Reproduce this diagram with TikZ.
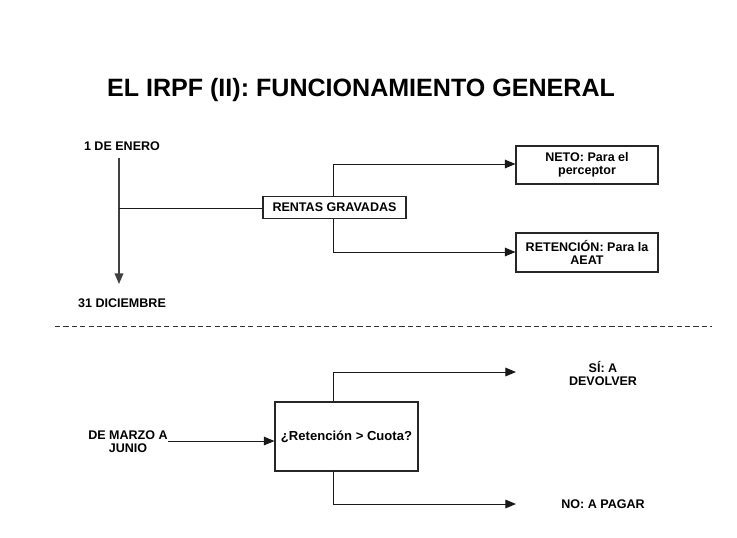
\documentclass[tikz,border=0pt]{standalone}
\usepackage{fontspec}
\setmainfont{Liberation Sans}
\usetikzlibrary{arrows.meta}
\begin{document}
\begin{tikzpicture}[x=0.75pt,y=-0.75pt,
  lbl/.style={font=\fontsize{9.4}{9.8}\selectfont\bfseries, align=center, inner sep=0pt},
  bx/.style={draw=black!85, line width=0.8pt, font=\fontsize{9.4}{9.8}\selectfont\bfseries, align=center, inner sep=0pt, minimum width=#1},
  conn/.style={draw=black!90, line width=0.75pt},
  arr/.style={conn, -{Triangle[length=8pt,width=6.5pt]}},
  ttl/.style={font=\fontsize{18.8}{22}\selectfont\bfseries, inner sep=0pt}
]
\useasboundingbox (0,0) rectangle (737,537);
% title
\node[ttl] (title) at (361,90) {EL IRPF (II): FUNCIONAMIENTO GENERAL};
% top part
\node[lbl] (ene) at (122,146) {1 DE ENERO};
\node[lbl] (dic) at (122,303) {31 DICIEMBRE};
\coordinate (tl0) at (119,158);
\coordinate (tl1) at (119,284);
\coordinate (jn) at (119,208);
\draw[arr, line width=1.1pt, draw=black!75] (tl0) -- (tl1);
\node[bx=143pt*0.75, minimum height=22*0.75pt] (rg) at (334.5,207.5) {RENTAS GRAVADAS};
\node[bx=142pt*0.75, minimum height=38*0.75pt] (neto) at (587,165) {NETO: Para el\\perceptor};
\node[bx=142pt*0.75, minimum height=39*0.75pt] (ret) at (587,252.5) {RETENCIÓN: Para la\\AEAT};
\draw[conn] (jn) -- (jn -| rg.west);
\draw[arr] (333,0 |- rg.north) -- (333,164) -- (neto.west |- 0,164);
\draw[arr] (333,0 |- rg.south) -- (333,252) -- (ret.west |- 0,252);
% separator
\coordinate (s0) at (55,326);
\coordinate (s1) at (712,326);
\draw[draw=black!80, line width=0.75pt, dash pattern=on 3.9pt off 2.4pt] (s0) -- (s1);
% bottom part
\node[lbl] (dm) at (128,442) {DE MARZO A\\JUNIO};
\node[bx=143pt*0.75, minimum height=69*0.75pt] (q) at (346.5,436.5) {\fontsize{9.8}{10}\selectfont ¿Retención > Cuota?};
\draw[arr] (168,441) -- (q.west |- 0,441);
\node[lbl] (si) at (603,373.5) {SÍ: A\\DEVOLVER};
\node[lbl] (no) at (603,504) {NO: A PAGAR};
\coordinate (siA) at (516,372);
\coordinate (noA) at (516,504);
\draw[arr] (333,0 |- q.north) -- (333,372) -- (siA);
\draw[arr] (333,0 |- q.south) -- (333,504) -- (noA);
\end{tikzpicture}
\end{document}
